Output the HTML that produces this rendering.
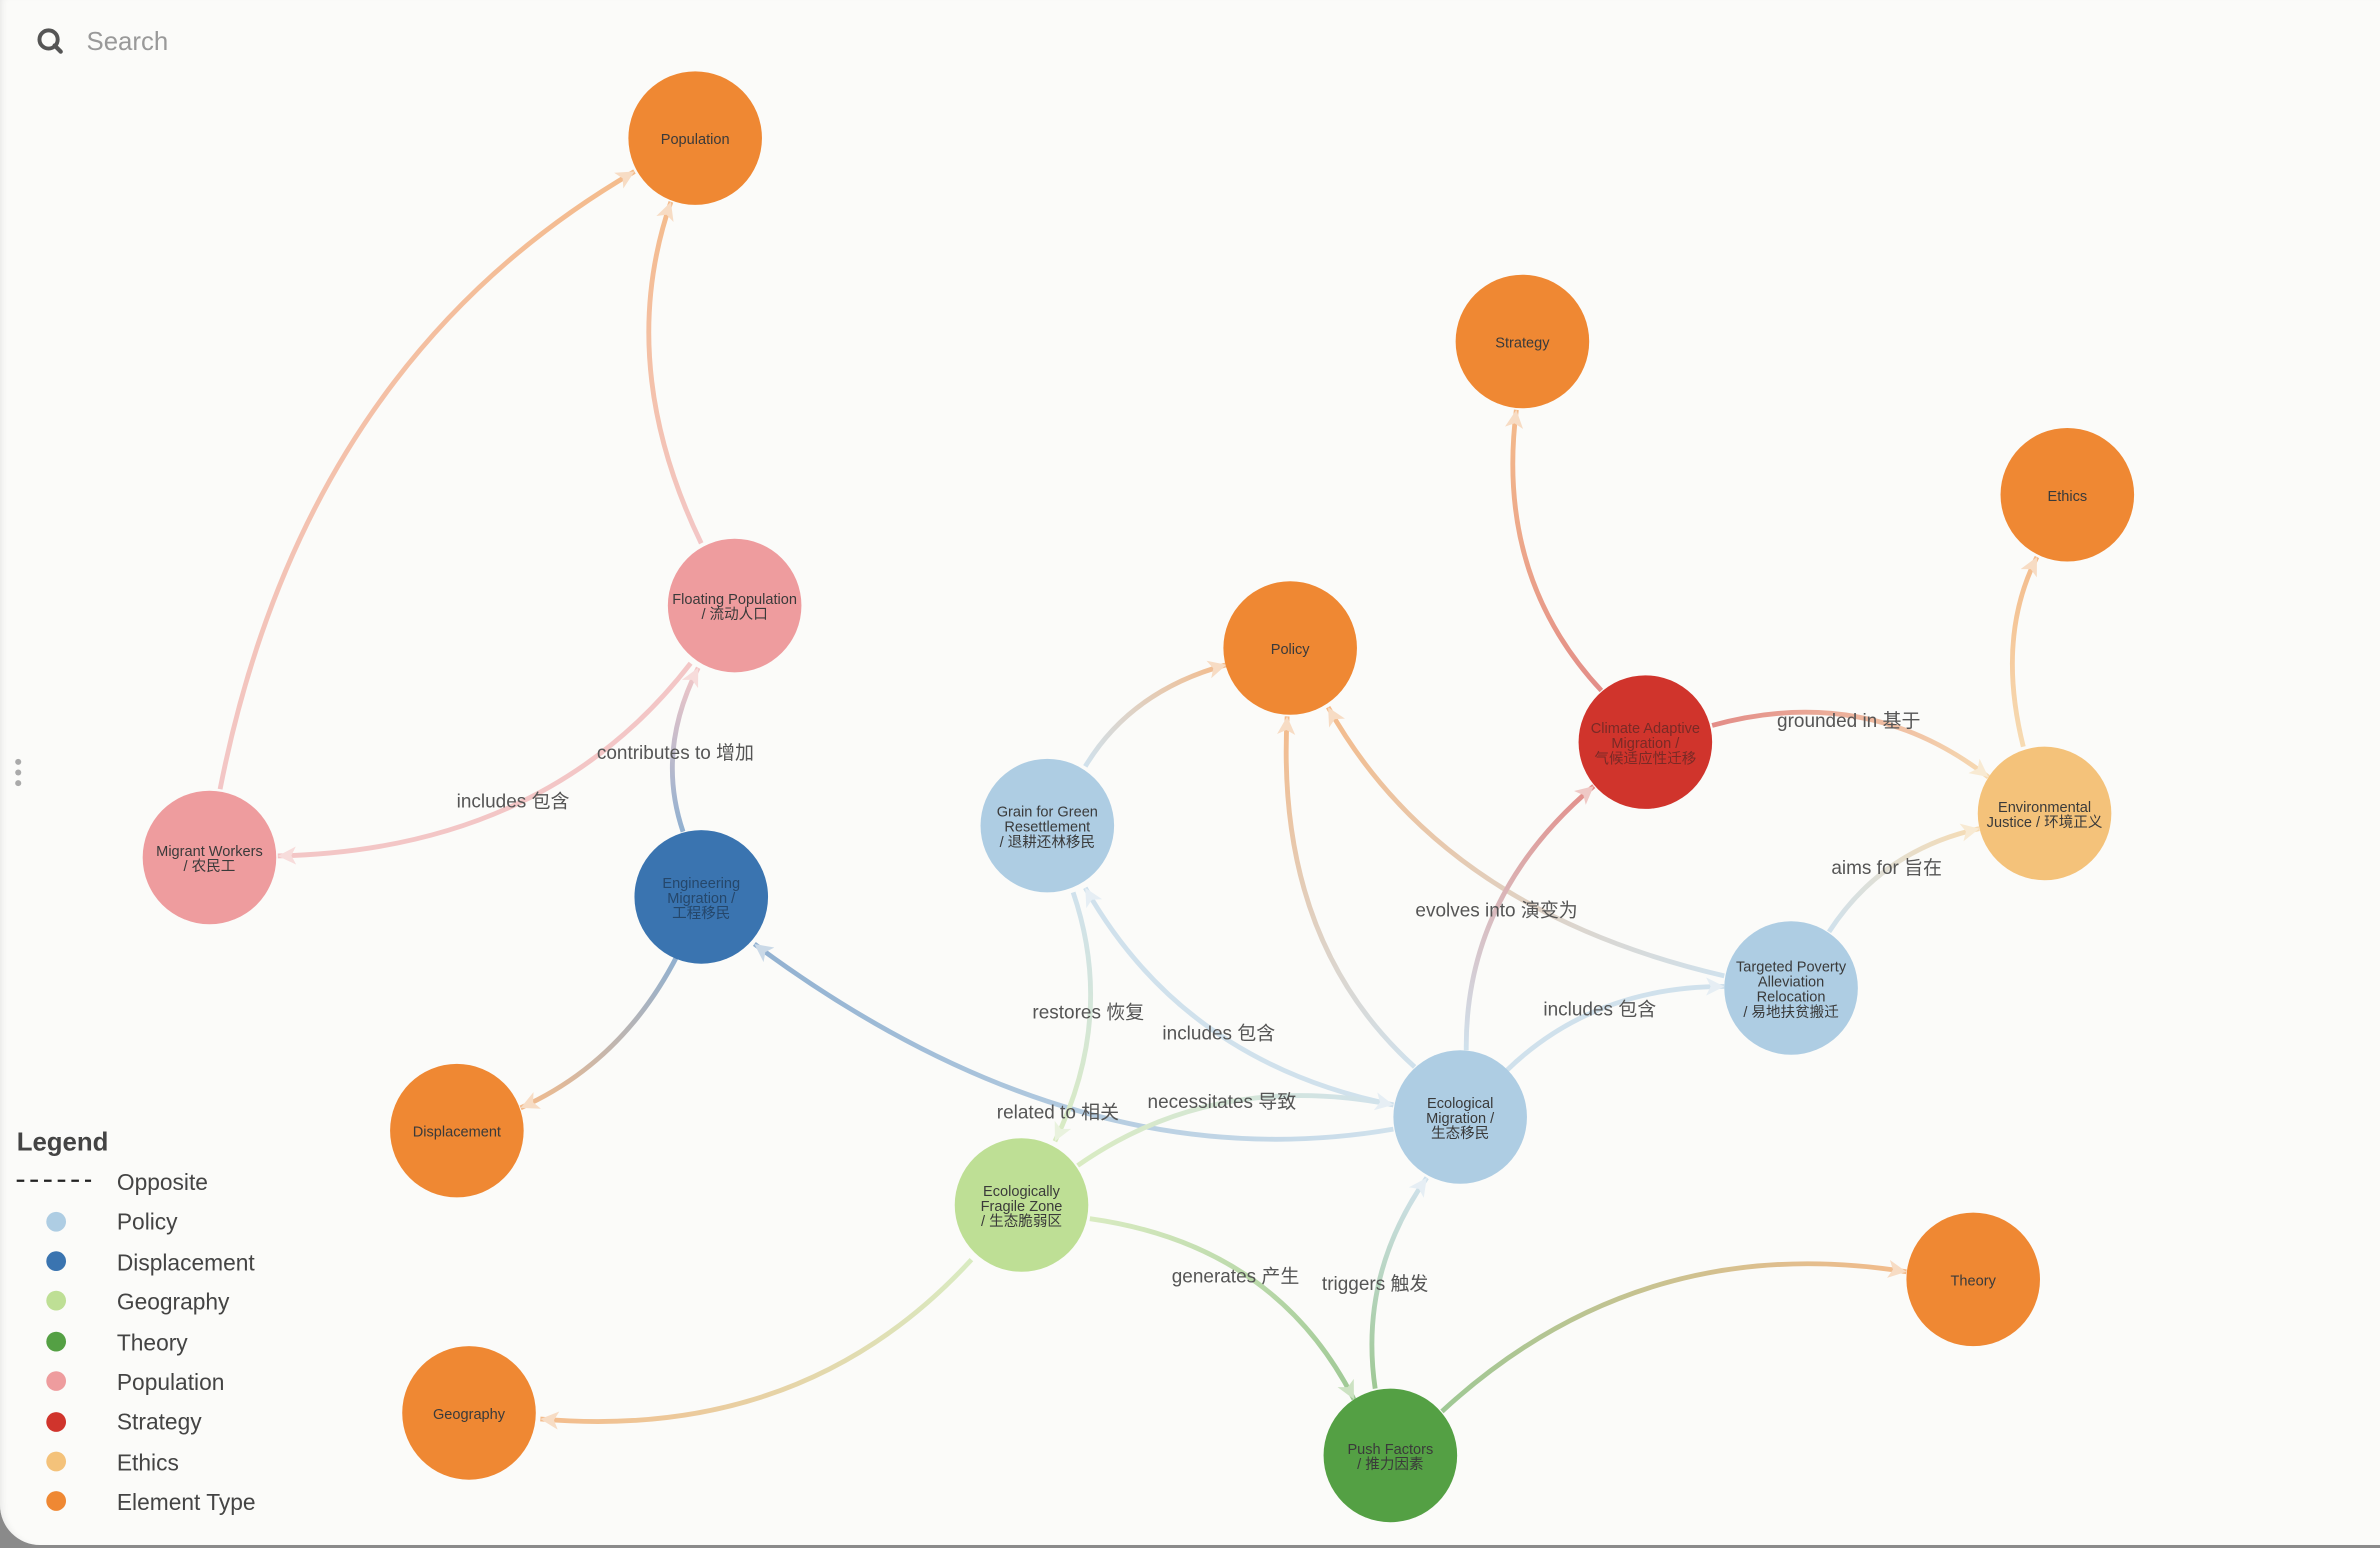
<!DOCTYPE html>
<html><head><meta charset="utf-8"><style>
html,body{margin:0;padding:0;width:2380px;height:1548px;overflow:hidden;background:#8a8a8a;}
.card{position:absolute;left:0;top:0;width:2380px;height:1545px;background:#fbfbf9;border-bottom-left-radius:40px;box-shadow:inset 6px 0 8px -6px #ddd;}
svg{position:absolute;left:0;top:0;}
</style></head><body><div class="card"></div>
<svg width="2380" height="1548" viewBox="0 0 1568 1020" preserveAspectRatio="none" xmlns="http://www.w3.org/2000/svg" font-family="'Liberation Sans','Noto Sans CJK SC',sans-serif">
<defs>
<linearGradient id="g1" gradientUnits="userSpaceOnUse" x1="145" y1="520" x2="418" y2="113"><stop offset="0" stop-color="#EE9C9E"/><stop offset="1" stop-color="#EF8833"/></linearGradient>
<linearGradient id="g2" gradientUnits="userSpaceOnUse" x1="462" y1="358" x2="442" y2="133"><stop offset="0" stop-color="#EE9C9E"/><stop offset="1" stop-color="#EF8833"/></linearGradient>
<linearGradient id="g3" gradientUnits="userSpaceOnUse" x1="455" y1="437" x2="183" y2="564"><stop offset="0" stop-color="#EE9C9E"/><stop offset="1" stop-color="#EE9C9E"/></linearGradient>
<linearGradient id="g4" gradientUnits="userSpaceOnUse" x1="450" y1="548" x2="460" y2="440"><stop offset="0" stop-color="#3A74B0"/><stop offset="1" stop-color="#EE9C9E"/></linearGradient>
<linearGradient id="g5" gradientUnits="userSpaceOnUse" x1="446" y1="630" x2="343" y2="730"><stop offset="0" stop-color="#3A74B0"/><stop offset="1" stop-color="#EF8833"/></linearGradient>
<linearGradient id="g6" gradientUnits="userSpaceOnUse" x1="918" y1="744" x2="497" y2="622"><stop offset="0" stop-color="#AECDE3"/><stop offset="1" stop-color="#3A74B0"/></linearGradient>
<linearGradient id="g7" gradientUnits="userSpaceOnUse" x1="715" y1="505" x2="808" y2="438"><stop offset="0" stop-color="#AECDE3"/><stop offset="1" stop-color="#EF8833"/></linearGradient>
<linearGradient id="g8" gradientUnits="userSpaceOnUse" x1="707" y1="588" x2="695" y2="752"><stop offset="0" stop-color="#AECDE3"/><stop offset="1" stop-color="#BEDF95"/></linearGradient>
<linearGradient id="g9" gradientUnits="userSpaceOnUse" x1="918" y1="728" x2="715" y2="585"><stop offset="0" stop-color="#AECDE3"/><stop offset="1" stop-color="#AECDE3"/></linearGradient>
<linearGradient id="g10" gradientUnits="userSpaceOnUse" x1="932" y1="703" x2="848" y2="472"><stop offset="0" stop-color="#AECDE3"/><stop offset="1" stop-color="#EF8833"/></linearGradient>
<linearGradient id="g11" gradientUnits="userSpaceOnUse" x1="1136" y1="643" x2="875" y2="466"><stop offset="0" stop-color="#AECDE3"/><stop offset="1" stop-color="#EF8833"/></linearGradient>
<linearGradient id="g12" gradientUnits="userSpaceOnUse" x1="966" y1="692" x2="1050" y2="518"><stop offset="0" stop-color="#AECDE3"/><stop offset="1" stop-color="#D0342C"/></linearGradient>
<linearGradient id="g13" gradientUnits="userSpaceOnUse" x1="1055" y1="455" x2="999" y2="270"><stop offset="0" stop-color="#D0342C"/><stop offset="1" stop-color="#EF8833"/></linearGradient>
<linearGradient id="g14" gradientUnits="userSpaceOnUse" x1="1128" y1="478" x2="1310" y2="512"><stop offset="0" stop-color="#D0342C"/><stop offset="1" stop-color="#F4C27A"/></linearGradient>
<linearGradient id="g15" gradientUnits="userSpaceOnUse" x1="1333" y1="492" x2="1342" y2="367"><stop offset="0" stop-color="#F4C27A"/><stop offset="1" stop-color="#EF8833"/></linearGradient>
<linearGradient id="g16" gradientUnits="userSpaceOnUse" x1="1205" y1="614" x2="1304" y2="546"><stop offset="0" stop-color="#AECDE3"/><stop offset="1" stop-color="#F4C27A"/></linearGradient>
<linearGradient id="g17" gradientUnits="userSpaceOnUse" x1="993" y1="705" x2="1136" y2="650"><stop offset="0" stop-color="#AECDE3"/><stop offset="1" stop-color="#AECDE3"/></linearGradient>
<linearGradient id="g18" gradientUnits="userSpaceOnUse" x1="710" y1="768" x2="918" y2="728"><stop offset="0" stop-color="#BEDF95"/><stop offset="1" stop-color="#AECDE3"/></linearGradient>
<linearGradient id="g19" gradientUnits="userSpaceOnUse" x1="640" y1="830" x2="356" y2="935"><stop offset="0" stop-color="#BEDF95"/><stop offset="1" stop-color="#EF8833"/></linearGradient>
<linearGradient id="g20" gradientUnits="userSpaceOnUse" x1="718" y1="803" x2="892" y2="922"><stop offset="0" stop-color="#BEDF95"/><stop offset="1" stop-color="#54A044"/></linearGradient>
<linearGradient id="g21" gradientUnits="userSpaceOnUse" x1="906" y1="915" x2="940" y2="776"><stop offset="0" stop-color="#54A044"/><stop offset="1" stop-color="#AECDE3"/></linearGradient>
<linearGradient id="g22" gradientUnits="userSpaceOnUse" x1="950" y1="930" x2="1256" y2="838"><stop offset="0" stop-color="#54A044"/><stop offset="1" stop-color="#EF8833"/></linearGradient>
<marker id="mO" markerUnits="userSpaceOnUse" markerWidth="14" markerHeight="14" refX="12" refY="6" orient="auto"><path d="M0,0 L12,6 L0,12 L3,6 z" fill="#F5C39A"/></marker>
<marker id="mP" markerUnits="userSpaceOnUse" markerWidth="14" markerHeight="14" refX="12" refY="6" orient="auto"><path d="M0,0 L12,6 L0,12 L3,6 z" fill="#F4C4C4"/></marker>
<marker id="mB" markerUnits="userSpaceOnUse" markerWidth="14" markerHeight="14" refX="12" refY="6" orient="auto"><path d="M0,0 L12,6 L0,12 L3,6 z" fill="#A3BEDA"/></marker>
<marker id="mL" markerUnits="userSpaceOnUse" markerWidth="14" markerHeight="14" refX="12" refY="6" orient="auto"><path d="M0,0 L12,6 L0,12 L3,6 z" fill="#D5E5F1"/></marker>
<marker id="mR" markerUnits="userSpaceOnUse" markerWidth="14" markerHeight="14" refX="12" refY="6" orient="auto"><path d="M0,0 L12,6 L0,12 L3,6 z" fill="#E6A29E"/></marker>
<marker id="mE" markerUnits="userSpaceOnUse" markerWidth="14" markerHeight="14" refX="12" refY="6" orient="auto"><path d="M0,0 L12,6 L0,12 L3,6 z" fill="#F7DDB5"/></marker>
<marker id="mG" markerUnits="userSpaceOnUse" markerWidth="14" markerHeight="14" refX="12" refY="6" orient="auto"><path d="M0,0 L12,6 L0,12 L3,6 z" fill="#A6CF96"/></marker>
<marker id="mLG" markerUnits="userSpaceOnUse" markerWidth="14" markerHeight="14" refX="12" refY="6" orient="auto"><path d="M0,0 L12,6 L0,12 L3,6 z" fill="#DBECC8"/></marker>
</defs>
<g fill="none" stroke-width="3.2" opacity="0.55">
<path d="M145,520 Q200,240 418,113" stroke="url(#g1)" marker-end="url(#mO)"/>
<path d="M462,358 Q405,240 442,133" stroke="url(#g2)" marker-end="url(#mO)"/>
<path d="M455,437 Q360,560 183,564" stroke="url(#g3)" marker-end="url(#mP)"/>
<path d="M450,548 Q432,495 460,440" stroke="url(#g4)" marker-end="url(#mP)"/>
<path d="M446,630 Q410,700 343,730" stroke="url(#g5)" marker-end="url(#mO)"/>
<path d="M918,744 Q710,780 497,622" stroke="url(#g6)" marker-end="url(#mB)"/>
<path d="M715,505 Q745,455 808,438" stroke="url(#g7)" marker-end="url(#mO)"/>
<path d="M707,588 Q735,670 695,752" stroke="url(#g8)" marker-end="url(#mLG)"/>
<path d="M918,728 Q780,700 715,585" stroke="url(#g9)" marker-end="url(#mL)"/>
<path d="M932,703 Q840,620 848,472" stroke="url(#g10)" marker-end="url(#mO)"/>
<path d="M1136,643 Q950,600 875,466" stroke="url(#g11)" marker-end="url(#mO)"/>
<path d="M966,692 Q965,590 1050,518" stroke="url(#g12)" marker-end="url(#mR)"/>
<path d="M1055,455 Q985,380 999,270" stroke="url(#g13)" marker-end="url(#mO)"/>
<path d="M1128,478 Q1230,450 1310,512" stroke="url(#g14)" marker-end="url(#mE)"/>
<path d="M1333,492 Q1315,420 1342,367" stroke="url(#g15)" marker-end="url(#mO)"/>
<path d="M1205,614 Q1240,560 1304,546" stroke="url(#g16)" marker-end="url(#mE)"/>
<path d="M993,705 Q1050,650 1136,650" stroke="url(#g17)" marker-end="url(#mL)"/>
<path d="M710,768 Q800,705 918,728" stroke="url(#g18)" marker-end="url(#mL)"/>
<path d="M640,830 Q530,950 356,935" stroke="url(#g19)" marker-end="url(#mO)"/>
<path d="M718,803 Q840,820 892,922" stroke="url(#g20)" marker-end="url(#mG)"/>
<path d="M906,915 Q895,840 940,776" stroke="url(#g21)" marker-end="url(#mL)"/>
<path d="M950,930 Q1080,810 1256,838" stroke="url(#g22)" marker-end="url(#mO)"/>
</g>
<g font-size="12.5" fill="#555" text-anchor="middle">
<text x="338" y="532">includes 包含</text>
<text x="445" y="500">contributes to 增加</text>
<text x="697" y="737">related to 相关</text>
<text x="717" y="671">restores 恢复</text>
<text x="803" y="685">includes 包含</text>
<text x="986" y="604">evolves into 演变为</text>
<text x="1218" y="479">grounded in 基于</text>
<text x="1243" y="576">aims for 旨在</text>
<text x="1054" y="669">includes 包含</text>
<text x="805" y="730">necessitates 导致</text>
<text x="814" y="845">generates 产生</text>
<text x="906" y="850">triggers 触发</text>
</g>
<g>
<circle cx="458" cy="91" r="44" fill="#EF8833"/>
<circle cx="1003" cy="225" r="44" fill="#EF8833"/>
<circle cx="1362" cy="326" r="44" fill="#EF8833"/>
<circle cx="850" cy="427" r="44" fill="#EF8833"/>
<circle cx="484" cy="399" r="44" fill="#EE9C9E"/>
<circle cx="1084" cy="489" r="44" fill="#D0342C"/>
<circle cx="1347" cy="536" r="44" fill="#F4C27A"/>
<circle cx="138" cy="565" r="44" fill="#EE9C9E"/>
<circle cx="690" cy="544" r="44" fill="#AECDE3"/>
<circle cx="462" cy="591" r="44" fill="#3A74B0"/>
<circle cx="1180" cy="651" r="44" fill="#AECDE3"/>
<circle cx="301" cy="745" r="44" fill="#EF8833"/>
<circle cx="962" cy="736" r="44" fill="#AECDE3"/>
<circle cx="673" cy="794" r="44" fill="#BEDF95"/>
<circle cx="1300" cy="843" r="44" fill="#EF8833"/>
<circle cx="309" cy="931" r="44" fill="#EF8833"/>
<circle cx="916" cy="959" r="44" fill="#54A044"/>
</g>
<g font-size="9.6" fill="#3a3a3a" text-anchor="middle">
<text x="458" y="95">Population</text>
<text x="1003" y="229">Strategy</text>
<text x="1362" y="330">Ethics</text>
<text x="850" y="431">Policy</text>
<text x="484" y="398">Floating Population</text><text x="484" y="408">/ 流动人口</text>
<text x="1084" y="483" fill="#7a2a26">Climate Adaptive</text><text x="1084" y="493" fill="#7a2a26">Migration /</text><text x="1084" y="503" fill="#7a2a26">气候适应性迁移</text>
<text x="1347" y="535">Environmental</text><text x="1347" y="545">Justice / 环境正义</text>
<text x="138" y="564">Migrant Workers</text><text x="138" y="574">/ 农民工</text>
<text x="690" y="538">Grain for Green</text><text x="690" y="548">Resettlement</text><text x="690" y="558">/ 退耕还林移民</text>
<text x="462" y="585" fill="#25476b">Engineering</text><text x="462" y="595" fill="#25476b">Migration /</text><text x="462" y="605" fill="#25476b">工程移民</text>
<text x="1180" y="640">Targeted Poverty</text><text x="1180" y="650">Alleviation</text><text x="1180" y="660">Relocation</text><text x="1180" y="670">/ 易地扶贫搬迁</text>
<text x="301" y="749">Displacement</text>
<text x="962" y="730">Ecological</text><text x="962" y="740">Migration /</text><text x="962" y="750">生态移民</text>
<text x="673" y="788">Ecologically</text><text x="673" y="798">Fragile Zone</text><text x="673" y="808">/ 生态脆弱区</text>
<text x="1300" y="847">Theory</text>
<text x="309" y="935">Geography</text>
<text x="916" y="958">Push Factors</text><text x="916" y="968">/ 推力因素</text>
</g>
<g>
<circle cx="32" cy="26" r="6" fill="none" stroke="#555" stroke-width="2.6"/>
<line x1="36" y1="30" x2="40" y2="34" stroke="#555" stroke-width="2.8" stroke-linecap="round"/>
<text x="57" y="33" font-size="17" fill="#999">Search</text>
<circle cx="12" cy="502" r="2" fill="#aaa"/><circle cx="12" cy="509" r="2" fill="#aaa"/><circle cx="12" cy="516" r="2" fill="#aaa"/>
</g>
<g font-size="15" fill="#444">
<text x="11" y="758" font-size="17" font-weight="bold">Legend</text>
<line x1="11" y1="778" x2="60" y2="778" stroke="#222" stroke-width="1.5" stroke-dasharray="5,4"/>
<text x="77" y="784">Opposite</text>
<circle cx="37" cy="805" r="6.5" fill="#AECDE3"/><text x="77" y="810">Policy</text>
<circle cx="37" cy="831" r="6.5" fill="#3A74B0"/><text x="77" y="837">Displacement</text>
<circle cx="37" cy="857" r="6.5" fill="#BEDF95"/><text x="77" y="863">Geography</text>
<circle cx="37" cy="884" r="6.5" fill="#54A044"/><text x="77" y="890">Theory</text>
<circle cx="37" cy="910" r="6.5" fill="#EE9C9E"/><text x="77" y="916">Population</text>
<circle cx="37" cy="937" r="6.5" fill="#D0342C"/><text x="77" y="942">Strategy</text>
<circle cx="37" cy="963" r="6.5" fill="#F4C27A"/><text x="77" y="969">Ethics</text>
<circle cx="37" cy="989" r="6.5" fill="#EF8833"/><text x="77" y="995">Element Type</text>
</g>
</svg>
</body></html>
